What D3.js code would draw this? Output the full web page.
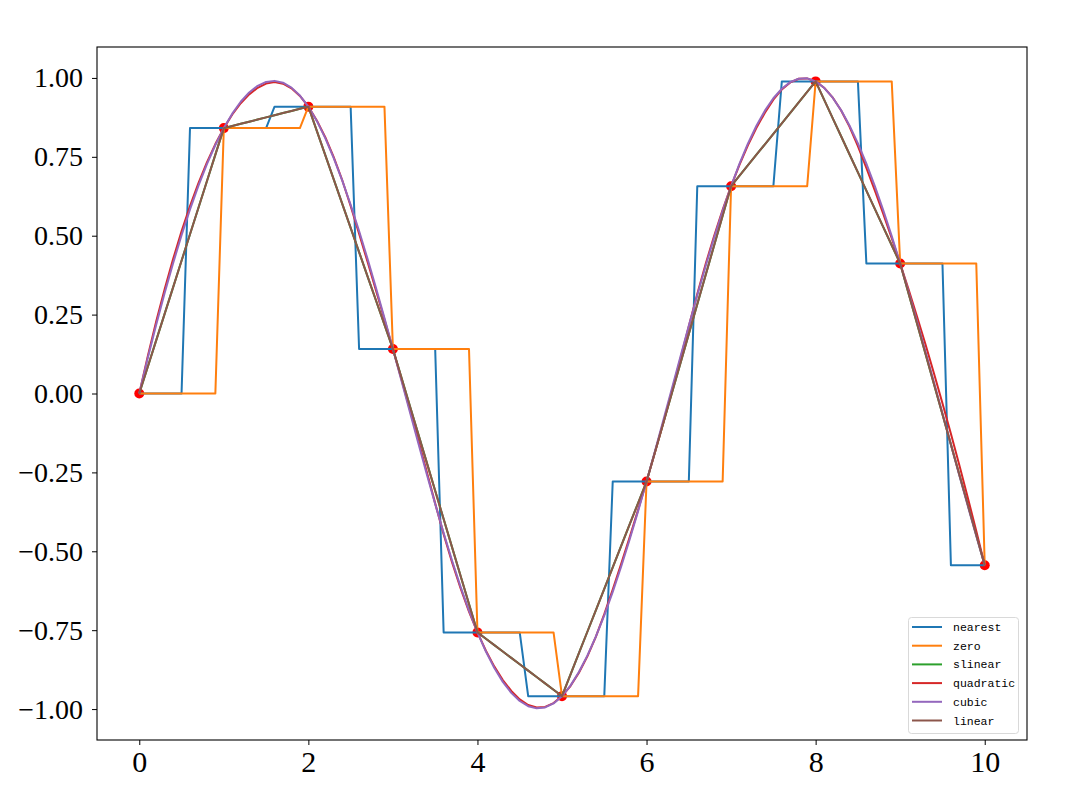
<!DOCTYPE html>
<html><head><meta charset="utf-8">
<script src="https://cdn.jsdelivr.net/npm/d3@7"></script>
<style>body{margin:0;background:#fff}svg{display:block}</style>
</head><body><svg id="c" width="1065" height="787"></svg>
<script>
// ---- data ----
const xData = [0, 1, 2, 3, 4, 5, 6, 7, 8, 9, 10];
const yData = [0, 0.841, 0.909, 0.141, -0.757, -0.959, -0.279, 0.657, 0.989, 0.412, -0.544];
const kinds = ["nearest", "zero", "slinear", "quadratic", "cubic", "linear"];
const colors = ["#1f77b4", "#ff7f0e", "#2ca02c", "#d62728", "#9467bd", "#8c564b"];
const xTicks = [0, 2, 4, 6, 8, 10];
const yTicks = [-1, -0.75, -0.5, -0.25, 0, 0.25, 0.5, 0.75, 1];
const xNew = d3.range(0, 101).map(i => i / 10);

// ---- interpolation (as scipy interp1d) ----
function findSpan(n, k, t, xv) {
  if (xv >= t[n]) return n - 1;
  let l = k;
  while (l < n - 1 && !(xv >= t[l] && xv < t[l + 1])) l++;
  return l;
}
function basisFuns(l, xv, k, t) {
  const N = [1], left = [0], right = [0];
  for (let j = 1; j <= k; j++) {
    left[j] = xv - t[l + 1 - j]; right[j] = t[l + j] - xv;
    let saved = 0;
    for (let r = 0; r < j; r++) {
      const tmp = N[r] / (right[r + 1] + left[j - r]);
      N[r] = saved + right[r + 1] * tmp;
      saved = left[j - r] * tmp;
    }
    N[j] = saved;
  }
  return N;
}
function solve(A, b) {
  const n = b.length; A = A.map(r => r.slice()); b = b.slice();
  for (let i = 0; i < n; i++) {
    let p = i;
    for (let r = i + 1; r < n; r++) if (Math.abs(A[r][i]) > Math.abs(A[p][i])) p = r;
    [A[i], A[p]] = [A[p], A[i]]; [b[i], b[p]] = [b[p], b[i]];
    for (let r = i + 1; r < n; r++) {
      const f = A[r][i] / A[i][i];
      for (let c = i; c < n; c++) A[r][c] -= f * A[i][c];
      b[r] -= f * b[i];
    }
  }
  const x = new Array(n).fill(0);
  for (let i = n - 1; i >= 0; i--) {
    let s = b[i];
    for (let c = i + 1; c < n; c++) s -= A[i][c] * x[c];
    x[i] = s / A[i][i];
  }
  return x;
}
function splineInterp(k) {
  const n = xData.length;
  let t;
  if (k === 2) {
    const mids = xData.slice(1).map((v, i) => (v + xData[i]) / 2);
    t = [].concat(Array(3).fill(xData[0]), mids.slice(1, -1), Array(3).fill(xData[n - 1]));
  } else {
    t = [].concat(Array(4).fill(xData[0]), xData.slice(2, -2), Array(4).fill(xData[n - 1]));
  }
  const A = xData.map(xv => {
    const row = new Array(n).fill(0);
    const l = findSpan(n, k, t, xv);
    const N = basisFuns(l, xv, k, t);
    for (let j = 0; j <= k; j++) row[l - k + j] = N[j];
    return row;
  });
  const c = solve(A, yData);
  return xNew.map(xv => {
    const l = findSpan(n, k, t, xv);
    const N = basisFuns(l, xv, k, t);
    let s = 0;
    for (let j = 0; j <= k; j++) s += N[j] * c[l - k + j];
    return s;
  });
}
function linearInterp() {
  return xNew.map(xv => {
    let i = Math.min(Math.floor(xv), xData.length - 2);
    const f = (xv - xData[i]) / (xData[i + 1] - xData[i]);
    return yData[i] + f * (yData[i + 1] - yData[i]);
  });
}
function nearestInterp() {
  const bds = xData.slice(1).map((v, i) => (v + xData[i]) / 2);
  return xNew.map(xv => yData[bds.filter(b => b < xv - 1e-12).length]);
}
function zeroInterp() {
  return xNew.map(xv => yData[xData.filter(b => b <= xv + 1e-12).length - 1]);
}
const series = {
  nearest: nearestInterp(),
  zero: zeroInterp(),
  slinear: linearInterp(),
  quadratic: splineInterp(2),
  cubic: splineInterp(3),
  linear: linearInterp()
};

// ---- drawing ----
const svg = d3.select("#c");
const L = 97, T = 47, R = 1027, B = 740;
const x = d3.scaleLinear().domain([-0.5, 10.5]).range([L, R]);
const y = d3.scaleLinear().domain([-1.098, 1.098]).range([B, T]);

svg.selectAll("circle.pt").data(xData).join("circle")
  .attr("class", "pt").attr("cx", d => x(d)).attr("cy", (d, i) => y(yData[i]))
  .attr("r", 5).attr("fill", "#ff0000");

const line = d3.line().x((d, i) => x(xNew[i])).y(d => y(d));
kinds.forEach((k, i) => {
  svg.append("path").attr("d", line(series[k])).attr("fill", "none")
    .attr("stroke", colors[i]).attr("stroke-width", 2).attr("stroke-linejoin", "round");
});

const fontFam = "'Liberation Serif', serif";
const xa = svg.append("g").attr("transform", `translate(0,${B})`)
  .call(d3.axisBottom(x).tickValues(xTicks).tickSize(5).tickPadding(6).tickFormat(d3.format("d")));
const ya = svg.append("g").attr("transform", `translate(${L},0)`)
  .call(d3.axisLeft(y).tickValues(yTicks).tickSize(5).tickPadding(9).tickFormat(d3.format(".2f")));
[xa, ya].forEach(g => {
  g.select(".domain").remove();
  g.selectAll("text").attr("font-family", fontFam).attr("font-size", 28).attr("fill", "#000");
  g.selectAll("line").attr("stroke", "#000").attr("stroke-width", 1);
});
xa.selectAll("text").attr("font-size", 30);
svg.append("rect").attr("x", L).attr("y", T).attr("width", R - L).attr("height", B - T)
  .attr("fill", "none").attr("stroke", "#000").attr("stroke-width", 1.1);

// legend
const lg = svg.append("g");
lg.append("rect").attr("x", 908.5).attr("y", 617.5).attr("width", 110).attr("height", 116)
  .attr("rx", 3).attr("fill", "#fff").attr("fill-opacity", 0.8).attr("stroke", "#d9d9d9");
kinds.forEach((k, i) => {
  const yy = 627 + i * 18.7;
  lg.append("line").attr("x1", 912).attr("x2", 942).attr("y1", yy).attr("y2", yy)
    .attr("stroke", colors[i]).attr("stroke-width", 2);
  lg.append("text").attr("x", 953).attr("y", yy + 4).text(k)
    .attr("font-family", "'Liberation Mono', monospace").attr("font-size", 11.5).attr("fill", "#000");
});
</script></body></html>
